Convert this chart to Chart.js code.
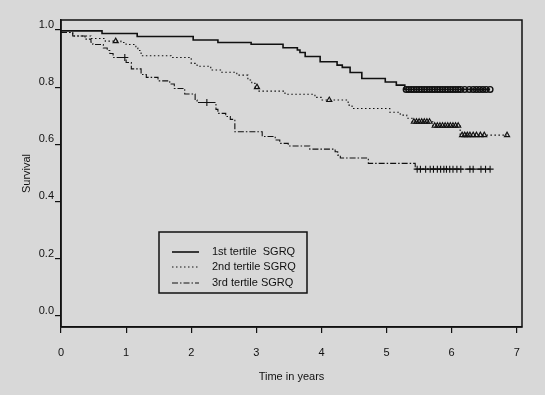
<!DOCTYPE html>
<html><head><meta charset="utf-8">
<script src="https://cdn.jsdelivr.net/npm/chart.js@4.4.1/dist/chart.umd.min.js"></script>
<style>html,body{margin:0;padding:0;background:#d8d8d8;}canvas{display:block;}</style>
</head><body><canvas id="c" width="545" height="395"></canvas>
<script>
const xTicks = [0,1,2,3,4,5,6,7];
const yTicks = [0,0.2,0.4,0.6,0.8,1.0];
const seriesNames = ["1st tertile  SGRQ","2nd tertile SGRQ","3rd tertile SGRQ"];

const t1Times = [0,0.63,1.17,2.03,2.41,2.92,3.41,3.63,3.67,3.75,3.98,4.24,4.32,4.44,4.62,4.98,5.15,5.28,6.59];
const t1Surv  = [0.997,0.988,0.977,0.965,0.956,0.950,0.938,0.930,0.921,0.907,0.889,0.877,0.869,0.851,0.830,0.818,0.807,0.792,0.792];
const t1CensTimes = [5.3,5.34,5.38,5.42,5.46,5.5,5.54,5.58,5.62,5.66,5.7,5.74,5.78,5.82,5.86,5.9,5.94,5.98,6.02,6.06,6.1,6.14,6.2,6.27,6.33,6.38,6.43,6.48,6.53,6.59];
const t1CensSurv  = [0.792,0.792,0.792,0.792,0.792,0.792,0.792,0.792,0.792,0.792,0.792,0.792,0.792,0.792,0.792,0.792,0.792,0.792,0.792,0.792,0.792,0.792,0.792,0.792,0.792,0.792,0.792,0.792,0.792,0.792];

const t2Times = [0,0.18,0.46,0.68,0.92,1.00,1.15,1.18,1.23,1.69,2.00,2.09,2.30,2.47,2.70,2.87,2.93,2.98,3.03,3.44,3.90,4.01,4.41,4.47,5.05,5.21,5.31,5.39,5.71,6.13,6.85];
const t2Surv  = [0.991,0.979,0.970,0.961,0.956,0.949,0.937,0.928,0.910,0.904,0.883,0.873,0.860,0.852,0.842,0.825,0.813,0.800,0.786,0.775,0.764,0.755,0.737,0.725,0.712,0.702,0.691,0.679,0.665,0.632,0.632];
const t2CensTimes = [0.84,3.01,4.12,5.42,5.46,5.5,5.54,5.58,5.62,5.66,5.74,5.78,5.82,5.86,5.9,5.94,5.98,6.02,6.06,6.1,6.16,6.2,6.24,6.28,6.33,6.38,6.44,6.5,6.85];
const t2CensSurv  = [0.961,0.800,0.755,0.679,0.679,0.679,0.679,0.679,0.679,0.679,0.665,0.665,0.665,0.665,0.665,0.665,0.665,0.665,0.665,0.665,0.632,0.632,0.632,0.632,0.632,0.632,0.632,0.632,0.632];

const t3Times = [0,0.18,0.37,0.46,0.49,0.65,0.71,0.75,0.80,1.00,1.08,1.23,1.31,1.49,1.67,1.74,1.90,2.06,2.09,2.38,2.41,2.53,2.60,2.67,3.09,3.29,3.36,3.49,3.82,4.21,4.25,4.29,4.72,5.44,6.59];
const t3Surv  = [0.991,0.979,0.968,0.957,0.949,0.937,0.928,0.918,0.904,0.886,0.864,0.844,0.834,0.822,0.811,0.795,0.776,0.755,0.746,0.722,0.708,0.697,0.687,0.644,0.627,0.615,0.603,0.594,0.583,0.574,0.562,0.552,0.533,0.513,0.513];
const t3CensTimes = [0.98,2.24,5.47,5.52,5.6,5.67,5.72,5.78,5.83,5.88,5.92,5.97,6.02,6.08,6.14,6.28,6.33,6.45,6.52,6.59];
const t3CensSurv  = [0.904,0.746,0.513,0.513,0.513,0.513,0.513,0.513,0.513,0.513,0.513,0.513,0.513,0.513,0.513,0.513,0.513,0.513,0.513,0.513];

const pts = (xs, ys) => xs.map((x,i)=>({x:x, y:ys[i]}));
const FONT = "'Liberation Sans', Arial, Helvetica, sans-serif";
const INK = '#111';

const lineStyles = [
  {borderDash: [], borderWidth: 1.6},
  {borderDash: [1.5, 2.5], borderWidth: 1.1},
  {borderDash: [6, 2, 1.5, 2], borderWidth: 1.1}
];

function curve(label, xs, ys, st) {
  return {label, data: pts(xs, ys), showLine: true, stepped: 'before', borderColor: INK,
    borderWidth: st.borderWidth, borderDash: st.borderDash, pointRadius: 0, fill: false};
}
function marks(xs, ys, style, r, bw) {
  return {label: '', data: pts(xs, ys), showLine: false, pointStyle: style, pointRadius: r,
    borderColor: INK, borderWidth: bw, backgroundColor: 'rgba(0,0,0,0)'};
}

const framePlugin = {
  id: 'frame',
  afterDraw(chart) {
    const {ctx, chartArea: a} = chart;
    ctx.save();
    ctx.strokeStyle = INK; ctx.lineWidth = 1.5;
    ctx.strokeRect(a.left, a.top, a.right - a.left, a.bottom - a.top);
    const bx = 159, by = 232, bw = 148, bh = 61;
    ctx.strokeRect(bx, by, bw, bh);
    const rows = [252, 267, 283];
    ctx.font = '11px ' + FONT;
    ctx.fillStyle = INK;
    ctx.textBaseline = 'middle';
    rows.forEach((ry, i) => {
      ctx.beginPath();
      ctx.lineWidth = lineStyles[i].borderWidth;
      ctx.setLineDash(lineStyles[i].borderDash);
      ctx.moveTo(172, ry); ctx.lineTo(199, ry); ctx.stroke();
      ctx.setLineDash([]);
      ctx.fillText(seriesNames[i], 212, ry);
    });
    ctx.restore();
  }
};

new Chart(document.getElementById('c'), {
  type: 'scatter',
  data: {datasets: [
    curve(seriesNames[0], t1Times, t1Surv, lineStyles[0]),
    curve(seriesNames[1], t2Times, t2Surv, lineStyles[1]),
    curve(seriesNames[2], t3Times, t3Surv, lineStyles[2]),
    marks(t1CensTimes, t1CensSurv, 'circle', 2.8, 1.4),
    marks(t2CensTimes, t2CensSurv, 'triangle', 3, 1.1),
    marks(t3CensTimes, t3CensSurv, 'cross', 3.5, 1.1)
  ]},
  options: {
    responsive: false, animation: false, devicePixelRatio: 1,
    layout: {padding: {top: 20, right: 23, left: 0, bottom: 0}},
    plugins: {legend: {display: false}, tooltip: {enabled: false}},
    scales: {
      x: {
        type: 'linear', min: 0, max: 7.08,
        afterBuildTicks: s => { s.ticks = xTicks.map(v => ({value: v})); },
        afterFit: s => { s.height = 68; },
        grid: {drawOnChartArea: false, drawTicks: true, tickLength: 6, color: INK, lineWidth: 1.2},
        border: {display: true, color: INK, width: 1.5},
        ticks: {color: INK, font: {family: FONT, size: 11}, padding: 13, maxRotation: 0, callback: v => String(v)},
        title: {display: true, text: 'Time in years', color: INK, font: {family: FONT, size: 11}, padding: {top: 0, bottom: 11}}
      },
      y: {
        type: 'linear', min: -0.0396, max: 1.035,
        afterBuildTicks: s => { s.ticks = yTicks.map(v => ({value: v})); },
        afterFit: s => { s.width = 61; },
        grid: {drawOnChartArea: false, drawTicks: true, tickLength: 6, color: INK, lineWidth: 1.2},
        border: {display: true, color: INK, width: 1.5},
        ticks: {color: INK, font: {family: FONT, size: 11}, padding: 1, labelOffset: -5, callback: v => Number(v).toFixed(1)},
        title: {display: true, text: 'Survival', color: INK, font: {family: FONT, size: 11}, padding: {top: 20, bottom: 0}}
      }
    }
  },
  plugins: [framePlugin]
});
</script>
</body></html>
